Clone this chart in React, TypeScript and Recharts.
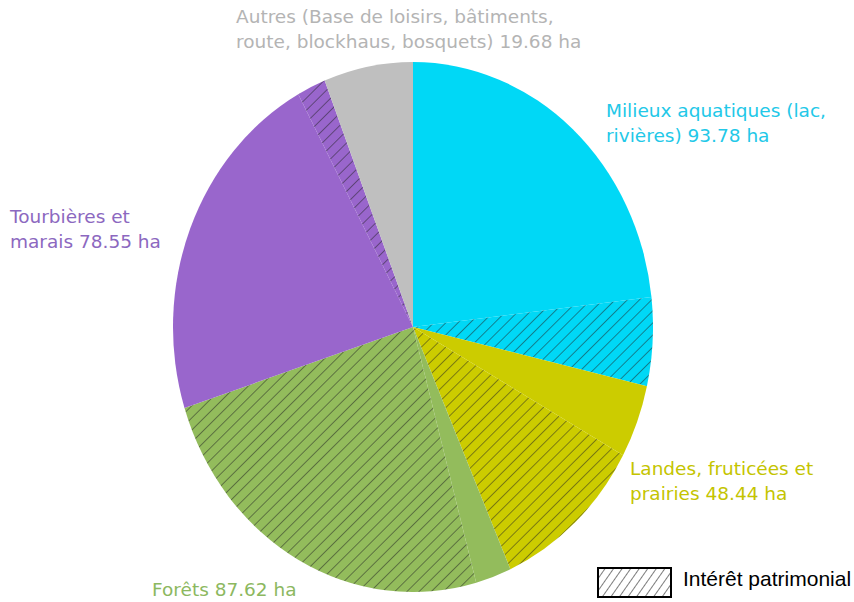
import React from 'react';
import { Cell, Pie, PieChart } from 'recharts';

// Surfaces par milieu (ha), dans l'ordre horaire à partir de midi
const categories = [
  'Milieux aquatiques',
  'Landes, fruticées et prairies',
  'Forêts',
  'Tourbières et marais',
  'Autres',
];
const plainHa = [76.1, 14.6, 7.9, 72.2, 19.68];
const patrimonialHa = [17.68, 33.84, 79.72, 6.35, 0];
const colors = ['#00d8f6', '#cccc00', '#93bc5c', '#9966cc', '#bfbfbf'];
const labelColors = ['#22c8e8', '#c4c400', '#8cb860', '#8c68c0', '#b4b4b4'];

const labels = [
  { lines: ['Milieux aquatiques (lac,', 'rivières) 93.78 ha'], left: 606, top: 98 },
  { lines: ['Landes, fruticées et', 'prairies 48.44 ha'], left: 630, top: 456 },
  { lines: ['Forêts 87.62 ha'], left: 152, top: 577 },
  { lines: ['Tourbières et', 'marais 78.55 ha'], left: 10, top: 204 },
  { lines: ['Autres (Base de loisirs, bâtiments,', 'route, blockhaus, bosquets) 19.68 ha'], left: 236, top: 4 },
];

const slices = categories.flatMap((name, i) => [
  { name, value: plainHa[i], cat: i, hatched: false },
  { name: `${name} (intérêt patrimonial)`, value: patrimonialHa[i], cat: i, hatched: true },
]).filter((s) => s.value > 0);

const SCALE_X = 240 / 265;

export default function App() {
  return (
    <div style={{ position: 'absolute', left: 0, top: 0, width: 854, height: 602, background: '#fff' }}>
      <div style={{ position: 'absolute', left: 0, top: 0, transform: `scaleX(${SCALE_X})`, transformOrigin: '413px 327px' }}>
        <PieChart width={854} height={602} margin={{ top: 0, right: 0, bottom: 0, left: 0 }}>
          <defs>
            {colors.map((c, i) => (
              <pattern
                key={c}
                id={`hatch-${i}`}
                patternUnits="userSpaceOnUse"
                width={9}
                height={9}
                patternTransform="rotate(48)"
              >
                <rect width={9} height={9} fill={c} />
                <line x1={0} y1={0} x2={0} y2={9} stroke="#222" strokeWidth={1} />
              </pattern>
            ))}
          </defs>
          <Pie
            data={slices}
            dataKey="value"
            nameKey="name"
            cx={413}
            cy={327}
            outerRadius={265}
            startAngle={90}
            endAngle={-270}
            stroke="none"
            isAnimationActive={false}
          >
            {slices.map((s) => (
              <Cell key={s.name} fill={s.hatched ? `url(#hatch-${s.cat})` : colors[s.cat]} />
            ))}
          </Pie>
        </PieChart>
      </div>

      {labels.map((l, i) => (
        <div
          key={categories[i]}
          style={{
            position: 'absolute',
            left: l.left,
            top: l.top,
            color: labelColors[i],
            fontFamily: '"DejaVu Sans", sans-serif',
            fontSize: 18.5,
            lineHeight: '25px',
            whiteSpace: 'nowrap',
          }}
        >
          {l.lines.map((t) => (
            <div key={t}>{t}</div>
          ))}
        </div>
      ))}

      <svg style={{ position: 'absolute', left: 597, top: 567 }} width={76} height={32}>
        <defs>
          <pattern id="legend-hatch" patternUnits="userSpaceOnUse" width={7} height={7} patternTransform="rotate(35)">
            <rect width={7} height={7} fill="#fff" />
            <line x1={0} y1={0} x2={0} y2={7} stroke="#111" strokeWidth={1.1} />
          </pattern>
        </defs>
        <rect x={1} y={1} width={73} height={29} fill="url(#legend-hatch)" stroke="#000" strokeWidth={2} />
      </svg>
      <div
        style={{
          position: 'absolute',
          left: 683,
          top: 567,
          fontFamily: '"Liberation Sans", Arial, sans-serif',
          fontSize: 21,
          color: '#000',
          whiteSpace: 'nowrap',
        }}
      >
        Intérêt patrimonial
      </div>
    </div>
  );
}
